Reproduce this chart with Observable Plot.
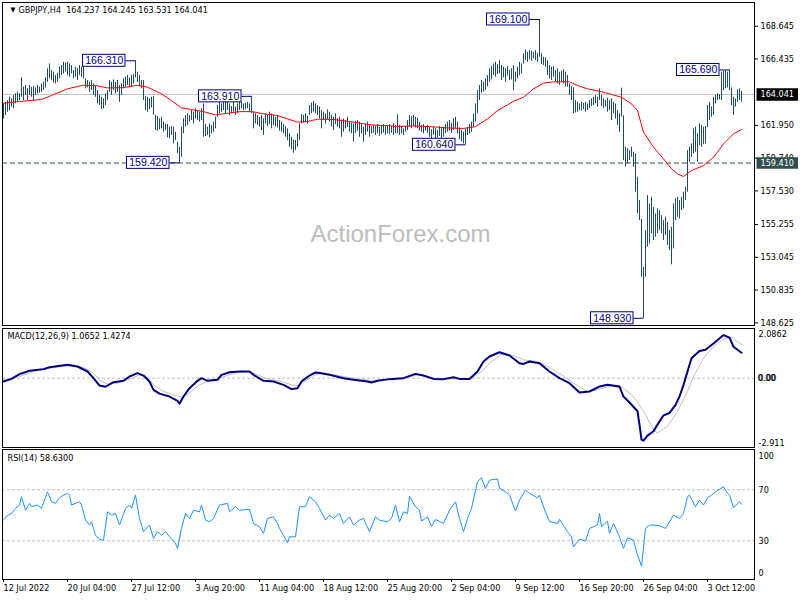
<!DOCTYPE html>
<html><head><meta charset="utf-8">
<script src="https://cdn.jsdelivr.net/npm/d3@7"></script>
<script src="https://cdn.jsdelivr.net/npm/@observablehq/plot@0.6"></script>
<style>
html,body{margin:0;padding:0;background:#fff;}
#chart{position:relative;width:800px;height:600px;overflow:hidden;background:#fff;}
#chart svg{position:absolute;left:0;top:0;}
</style></head><body><div id="chart"></div>
<script>
// ---------- DATA ----------
const symbol = "GBPJPY,H4";
const ohlc = [164.237, 164.245, 163.531, 164.041];
const high = [
163.40,163.51,163.63,163.85,163.74,163.97,164.08,164.19,164.08,165.16,
164.53,164.64,164.42,164.64,164.53,164.57,164.48,164.64,164.53,164.75,
164.86,165.16,165.77,166.10,165.65,165.54,165.32,165.47,165.88,165.99,
166.21,166.15,166.21,166.10,165.99,165.65,165.88,165.77,165.99,165.88,
166.21,165.09,164.98,164.86,164.98,164.75,164.64,164.30,163.97,163.85,
163.74,164.08,164.30,164.98,164.86,165.02,164.86,164.98,164.64,164.75,
165.09,165.20,165.32,165.16,165.32,165.38,166.31,165.54,165.32,164.98,
164.98,163.90,163.85,163.74,163.85,163.90,162.62,162.55,162.39,162.50,
162.17,162.05,162.01,161.83,161.87,161.83,161.49,160.82,160.48,161.83,
162.39,162.62,162.73,162.62,162.95,162.84,163.07,162.95,162.84,163.07,
163.40,162.01,161.83,162.05,161.94,162.17,162.50,163.29,163.51,163.40,
163.63,163.51,163.74,163.40,163.22,163.51,163.18,163.40,163.63,163.51,
163.40,163.45,163.51,163.40,163.91,162.84,162.73,162.62,162.50,162.62,
162.39,162.73,162.62,162.84,162.73,162.62,162.50,162.62,162.28,162.17,
162.01,161.87,161.72,161.38,161.15,160.97,160.93,161.38,162.05,162.68,
162.62,162.73,162.55,163.29,163.45,163.56,163.40,163.29,163.18,162.95,
162.84,162.73,163.00,162.84,162.62,162.50,162.73,162.39,162.50,162.32,
162.39,162.28,162.50,162.17,162.10,162.05,162.23,162.28,162.17,162.05,
161.83,162.01,162.17,161.94,161.87,161.94,161.87,162.01,161.83,161.92,
162.01,161.87,161.94,162.01,161.87,162.05,161.94,162.66,161.94,161.83,
161.72,161.87,162.28,162.62,162.55,162.62,162.50,162.44,162.17,161.94,
162.01,161.87,161.94,161.78,161.65,161.83,161.72,161.60,161.87,161.72,
161.83,162.01,162.17,162.28,162.10,162.39,162.50,162.17,161.78,161.60,
161.49,161.65,161.83,162.01,162.17,162.73,163.40,164.30,164.64,164.98,
164.86,165.09,165.32,165.77,165.92,166.10,166.21,166.06,166.33,165.99,
165.88,165.77,165.92,165.65,165.77,165.99,165.54,165.88,166.21,166.10,
166.78,167.05,166.89,167.00,166.96,166.89,167.00,166.82,169.10,166.78,
166.55,166.51,166.33,165.99,165.88,165.92,165.65,165.77,165.54,165.61,
165.70,165.54,165.32,164.75,164.57,164.48,163.63,163.51,163.40,163.51,
163.45,163.51,163.40,163.63,163.74,163.85,163.97,163.85,164.42,163.97,
163.74,163.63,163.79,163.63,163.74,163.51,163.40,162.95,162.73,164.46,
162.60,160.48,160.37,160.25,160.48,160.14,160.03,158.45,156.88,155.63,
152.38,154.85,157.21,156.65,157.10,156.42,155.97,156.31,156.20,155.86,
155.52,155.75,155.41,154.85,155.07,156.65,156.99,157.10,156.88,157.10,
157.44,157.78,160.25,160.48,160.70,161.72,161.83,161.38,162.05,161.94,
161.83,161.87,163.29,163.51,163.18,163.85,163.97,164.08,164.03,165.54,
165.61,165.65,165.54,165.69,164.48,163.85,163.74,164.35,164.42,164.245
];
const low = [
162.39,162.62,162.84,162.95,163.18,163.07,163.40,163.51,163.63,163.85,
163.63,163.97,163.63,163.97,163.85,163.63,163.97,164.08,164.12,164.19,
164.30,164.48,164.86,165.09,164.98,164.80,164.75,164.86,165.09,165.32,
165.43,165.54,165.32,165.20,165.43,165.09,165.20,164.98,165.32,165.20,
165.09,164.42,164.48,164.19,164.30,163.97,163.85,163.40,163.29,163.02,
163.07,163.29,163.63,164.19,163.97,164.30,164.08,164.19,163.51,163.97,
164.42,164.53,164.64,164.48,164.55,164.75,165.16,164.86,164.55,164.42,
163.63,162.95,162.84,163.00,163.13,162.62,161.60,161.56,161.65,161.72,
161.49,161.60,161.11,161.04,161.27,160.70,160.93,160.03,159.42,159.80,
161.38,161.83,161.94,162.17,162.28,162.05,162.39,162.28,162.17,162.28,
161.15,161.20,161.27,161.11,161.38,161.49,161.72,162.50,162.73,162.84,
162.95,162.73,162.95,162.62,162.73,162.84,162.62,162.77,162.95,163.07,
162.95,163.00,163.07,162.84,162.73,161.72,162.05,161.94,161.83,161.60,
161.27,162.05,161.87,162.01,161.72,161.94,161.83,161.78,161.56,161.49,
161.38,161.15,160.93,160.48,160.30,160.07,160.25,160.48,160.93,162.05,
162.10,162.17,162.05,162.62,162.73,162.84,162.73,162.62,162.39,161.72,
162.28,162.05,162.32,162.17,161.83,161.60,162.01,161.83,161.72,161.15,
161.49,161.72,161.83,161.49,161.38,160.82,161.42,161.56,161.15,161.38,
160.82,161.27,161.49,161.15,161.38,161.42,161.27,161.38,161.20,161.33,
161.42,161.27,161.38,161.33,161.42,161.27,161.38,161.38,161.27,161.38,
161.27,161.49,161.60,161.83,161.72,161.87,161.78,161.72,161.56,161.49,
161.38,161.56,161.42,161.15,160.93,161.27,161.04,161.11,161.20,160.97,
161.15,161.38,161.49,161.56,161.42,161.60,161.72,161.38,160.97,160.82,
160.70,160.64,161.27,161.38,161.49,161.83,162.17,162.73,163.63,164.12,
164.19,164.30,164.55,164.86,165.02,165.32,165.20,165.38,165.43,164.98,
165.16,164.86,165.29,164.98,165.02,164.30,164.86,165.09,165.32,165.43,
166.10,166.33,166.21,166.37,166.28,166.44,166.33,166.21,166.55,166.06,
165.99,165.88,165.32,165.09,164.98,165.20,164.86,164.75,164.64,164.86,
164.75,164.55,164.53,163.97,163.63,162.73,162.79,162.84,162.95,162.91,
163.00,162.84,162.95,163.07,163.22,163.29,163.40,163.18,163.63,163.22,
163.07,163.18,162.84,162.95,162.28,162.73,162.39,161.94,161.49,162.50,
159.58,159.13,159.35,159.58,159.80,159.13,157.44,155.97,155.52,151.70,
148.93,151.70,153.73,153.95,154.63,154.18,154.40,154.63,154.85,154.63,
154.18,154.52,153.84,153.50,152.54,153.62,155.52,155.75,155.63,156.20,
156.31,156.88,157.44,159.46,159.80,160.03,160.14,159.46,160.59,160.48,
160.66,160.70,161.80,162.28,162.50,162.62,163.40,163.63,163.67,163.63,
164.30,164.42,164.48,164.30,163.29,162.62,163.18,163.51,163.63,163.531
];
const maIdx = [0,8,19,24,32,40,47,52,60,67,72,79,84,89,94,100,106,110,118,124,130,137,142,147,152,157,165,172,177,184,194,197,205,213,222,230,236,242,247,252,255,260,265,270,275,283,287,292,300,309,314,317,320,325,330,334,337,340,344,350,355,360,365,369];
const maVal = [163.45,163.56,163.70,163.97,164.42,164.66,164.62,164.48,164.50,164.66,164.53,164.08,163.63,163.13,163.02,162.88,162.66,162.73,162.88,162.88,162.73,162.62,162.39,162.17,162.21,162.37,162.35,162.23,162.12,161.98,161.92,161.87,161.92,161.87,161.78,161.74,161.87,162.39,162.95,163.33,163.58,163.85,164.42,164.80,164.89,164.89,164.64,164.42,164.19,163.85,163.40,162.95,161.49,160.48,159.69,159.02,158.68,158.50,158.90,159.24,159.80,160.70,161.38,161.67];
const lblIdx = [66, 88, 124, 231, 268, 320, 363];
const lblVal = [166.310, 159.420, 163.910, 160.640, 169.100, 148.930, 165.690];
const currentPrice = 164.041;
const supportLevel = 159.410;
const priceTicks = [168.645,166.435,161.950,159.740,157.530,155.255,153.045,150.835,148.625];

const macdIdx = [0,4,8,13,20,23,32,37,42,45,48,51,55,60,63,67,70,73,75,78,83,87,88,90,93,97,99,102,107,109,113,118,123,125,130,135,140,144,147,149,153,156,159,163,170,175,182,184,187,193,200,206,210,215,220,225,228,233,237,240,243,248,253,258,260,263,268,273,278,283,288,293,298,302,308,310,313,317,318,319,320,322,325,327,330,333,336,338,340,342,344,348,351,355,360,363,365,369];
const macdVal = [-0.14,-0.03,0.17,0.31,0.38,0.46,0.56,0.49,0.28,0,-0.31,-0.36,-0.17,-0.11,0.07,0.21,0.11,-0.14,-0.49,-0.65,-0.77,-0.95,-1.07,-0.77,-0.42,-0.11,0,-0.11,-0.07,0.14,0.25,0.28,0.28,0.14,-0.11,-0.14,-0.28,-0.46,-0.42,-0.14,0.11,0.24,0.21,0.14,0,-0.07,-0.14,-0.18,-0.11,-0.04,0,0.18,0.11,-0.03,-0.04,0.04,-0.03,-0.03,0.28,0.70,0.91,1.09,0.95,0.63,0.60,0.70,0.63,0.28,0,-0.21,-0.60,-0.56,-0.35,-0.28,-0.35,-0.77,-1.02,-1.39,-1.95,-2.58,-2.62,-2.41,-2.23,-1.95,-1.56,-1.46,-1.12,-0.77,-0.28,0.28,0.84,1.14,1.19,1.46,1.81,1.70,1.32,1.07];
const sigIdx = [0,8,15,23,32,40,45,48,52,57,63,68,72,75,80,85,90,93,98,103,108,115,123,127,132,139,144,147,150,155,159,165,172,179,185,194,202,207,213,220,227,234,239,244,249,255,260,267,272,279,285,292,297,304,310,315,320,325,327,332,337,342,345,350,355,360,364,369];
const sigVal = [-0.07,0.07,0.28,0.42,0.52,0.45,0.21,-0.07,-0.25,-0.21,-0.04,0.14,0.03,-0.28,-0.56,-0.70,-0.81,-0.63,-0.28,-0.10,0,0.21,0.28,0.14,-0.03,-0.14,-0.28,-0.32,-0.17,0.11,0.21,0.14,0.04,-0.04,-0.11,-0.03,0.03,0.14,0.03,-0.03,-0.03,0,0.28,0.70,1.00,0.95,0.77,0.70,0.49,0.14,-0.21,-0.56,-0.49,-0.32,-0.42,-0.77,-1.39,-2.16,-2.30,-2.02,-1.39,-0.56,0.07,0.84,1.32,1.65,1.70,1.42];
const macdTitle = "MACD(12,26,9) 1.0652 1.4274";
const macdMax = 2.0862, macdMin = -2.911;

const rsiIdx = [0,2,4,6,8,9,11,13,14,17,19,22,24,26,28,30,32,33,34,38,39,41,43,44,46,48,50,52,54,56,58,61,63,64,66,68,70,73,75,77,79,81,83,86,87,89,91,93,95,98,99,101,103,105,108,112,113,116,118,123,125,128,130,132,135,137,138,142,143,146,148,151,153,156,158,161,163,165,168,170,173,175,178,180,183,186,188,192,194,196,198,200,202,203,206,208,209,212,214,216,220,223,226,228,230,232,234,237,239,241,243,247,248,251,253,256,258,261,263,267,268,270,273,277,278,282,284,285,288,291,293,297,298,299,302,303,305,308,310,312,315,317,319,321,323,325,328,331,335,338,340,342,343,346,348,350,352,354,356,360,362,363,365,368,369];
const rsiVal = [46.2,50.1,51.4,55.4,58.0,64.5,54.0,59.3,56.7,58.0,55.4,68.4,60.6,59.3,63.7,65.8,67.1,65.8,58.0,60.6,58.0,46.2,42.3,44.9,34.4,31.0,30.5,52.7,50.1,51.4,42.3,55.4,58.0,55.4,65.8,47.5,37.1,42.3,31.8,37.1,34.4,37.1,33.1,27.9,24.0,39.7,51.4,47.5,54.0,52.7,58.0,46.2,44.9,47.5,58.0,59.3,52.7,56.7,54.0,54.6,43.6,41.0,35.8,47.5,48.8,43.6,39.7,28.4,33.1,33.1,56.7,56.7,64.5,60.6,55.4,46.2,50.1,47.5,51.4,43.6,48.8,42.3,46.2,47.5,37.1,48.8,46.2,44.9,47.5,58.0,44.9,52.7,51.4,65.0,56.7,54.0,45.4,48.8,41.0,46.7,43.6,54.0,60.6,47.5,37.1,47.5,55.4,76.3,79.4,71.0,77.6,78.4,71.0,68.4,65.8,53.3,61.9,69.7,67.1,63.7,65.8,56.7,44.9,43.6,46.7,37.1,33.1,25.3,31.3,29.7,39.7,42.3,51.4,41.0,45.4,35.8,43.6,33.1,24.0,32.4,30.5,18.8,10.1,39.7,42.3,42.3,41.8,39.7,50.1,47.5,51.4,64.5,65.8,56.7,61.9,58.0,63.7,65.8,68.4,72.3,67.1,65.8,55.9,60.6,58.6];
const rsiTitle = "RSI(14) 58.6300";
const rsiLevels = [70, 30];

const xTickIdx = [0,32,64,96,128,160,192,224,256,288,320,352];
const xTickLbl = ["12 Jul 2022","20 Jul 04:00","27 Jul 12:00","3 Aug 20:00","11 Aug 04:00","18 Aug 12:00","25 Aug 20:00","2 Sep 04:00","9 Sep 12:00","16 Sep 20:00","26 Sep 04:00","3 Oct 12:00"];
const watermark = "ActionForex.com";

// ---------- BUILD ----------
const FONT = "'DejaVu Sans Condensed','DejaVu Sans',sans-serif";
const BAR = "#1f4c63", NAVY = "#000080";
const bars = high.map((h, i) => ({i, h, l: low[i]}));
const ma = maIdx.map((i, k) => ({i, v: maVal[k]}));
const labels = lblIdx.map((i, k) => ({i, v: lblVal[k]}));
const macd = macdIdx.map((i, k) => ({i, v: macdVal[k]}));
const sig = sigIdx.map((i, k) => ({i, v: sigVal[k]}));
const rsi = rsiIdx.map((i, k) => ({i, v: rsiVal[k]}));
const xDom = [-0.5, 375.5];
const base = {width: 800, height: 600, marginLeft: 2, marginRight: 46,
  style: {fontFamily: FONT, fontSize: "9px", background: "transparent", overflow: "visible", color: "black"}};

const main = Plot.plot({...base, marginTop: 2, marginBottom: 275,
  x: {domain: xDom, axis: null},
  y: {domain: [148.443, 170.245], axis: null},
  marks: [
    Plot.text([watermark], {frameAnchor: "middle", dx: 22, dy: 70, fontSize: 24, fill: "#bdbdbd",
      fontFamily: "'Liberation Sans',Arial,sans-serif", text: d => d}),
    Plot.ruleY([currentPrice], {stroke: "#c0c0c0"}),
    Plot.ruleY([supportLevel], {stroke: "#2f4f4f", strokeDasharray: "5,3"}),
    Plot.ruleX(bars, {x: "i", y1: "l", y2: "h", stroke: BAR}),
    Plot.line(ma, {x: "i", y: "v", stroke: "#ff0000", strokeWidth: 1}),
    Plot.link(labels, {x1: d => d.i - 5, x2: "i", y1: "v", y2: "v", stroke: NAVY}),
    Plot.rect(labels, {x1: "i", x2: "i", y1: "v", y2: "v", insetLeft: -52.5, insetRight: 10, insetTop: -6, insetBottom: -6, fill: "white", stroke: NAVY}),
    Plot.text(labels, {x: "i", y: "v", dx: -31.25, text: d => d.v.toFixed(3), fill: NAVY, fontSize: 10.5,
      fontFamily: "'Liberation Sans',Arial,sans-serif"}),
    Plot.axisY({anchor: "right", ticks: priceTicks, tickFormat: d => d.toFixed(3), tickSize: 3, tickPadding: 3, label: null}),
    Plot.ruleY([currentPrice], {stroke: "black", strokeWidth: 12.5, insetLeft: 754.5, insetRight: -44}),
    Plot.text([currentPrice], {y: d => d, text: d => d.toFixed(3), frameAnchor: "right", dx: 6, textAnchor: "start", fill: "white"}),
    Plot.ruleY([supportLevel], {stroke: "#2f4f4f", strokeWidth: 11.5, insetLeft: 754.5, insetRight: -44}),
    Plot.text([supportLevel], {y: d => d, text: d => d.toFixed(3), frameAnchor: "right", dx: 6, textAnchor: "start", fill: "white"}),
    Plot.frame({stroke: "black"}),
    Plot.text(["▼"], {frameAnchor: "top-left", dx: 8, dy: 5, lineAnchor: "top", fontSize: 7, text: d => d}),
    Plot.text([symbol + "\u00a0 " + ohlc.map(d => d.toFixed(3)).join(" ")], {frameAnchor: "top-left", dx: 16, dy: 4, lineAnchor: "top", textAnchor: "start", text: d => d})
  ]
});

const macdPlot = Plot.plot({...base, marginTop: 328, marginBottom: 153,
  x: {domain: xDom, axis: null},
  y: {domain: [macdMin, macdMax], axis: null},
  marks: [
    Plot.ruleY([0], {stroke: "#c0c0c0", strokeDasharray: "3,2"}),
    Plot.line(sig, {x: "i", y: "v", stroke: "#c0c0c0", strokeWidth: 1}),
    Plot.line(macd, {x: "i", y: "v", stroke: NAVY, strokeWidth: 2}),
    Plot.frame({stroke: "black"}),
    Plot.text([macdTitle], {frameAnchor: "top-left", dx: 5, dy: 4, lineAnchor: "top", textAnchor: "start", text: d => d}),
    Plot.text([macdMax], {frameAnchor: "top-right", dx: 4, dy: 2, lineAnchor: "top", textAnchor: "start", text: d => d.toFixed(4)}),
    Plot.text([0], {y: d => d, frameAnchor: "right", dx: 3, textAnchor: "start", text: () => "0.00"}),
    Plot.text([0], {y: d => d, frameAnchor: "right", dx: 4, textAnchor: "start", text: () => "0.00"}),
    Plot.text([macdMin], {frameAnchor: "bottom-right", dx: 4, dy: -2, lineAnchor: "bottom", textAnchor: "start", text: d => d.toFixed(3)})
  ]
});

const rsiPlot = Plot.plot({...base, marginTop: 449, marginBottom: 21,
  x: {domain: xDom},
  y: {domain: [0, 100], range: [578.5, 451], axis: null},
  marks: [
    Plot.ruleY(rsiLevels, {stroke: "#c0c0c0", strokeDasharray: "3,2"}),
    Plot.line(rsi, {x: "i", y: "v", stroke: "#1e90ff", strokeWidth: 1}),
    Plot.frame({stroke: "black"}),
    Plot.text([rsiTitle], {frameAnchor: "top-left", dx: 5, dy: 5, lineAnchor: "top", textAnchor: "start", text: d => d}),
    Plot.text(rsiLevels, {y: d => d, frameAnchor: "right", dx: 4, textAnchor: "start", text: d => String(d)}),
    Plot.text([100], {y: d => d, frameAnchor: "right", dx: 4, dy: 5, textAnchor: "start", text: d => String(d)}),
    Plot.text([0], {y: d => d, frameAnchor: "right", dx: 4, dy: -5.5, textAnchor: "start", text: d => String(d)}),
    Plot.axisX({ticks: xTickIdx, tickFormat: d => xTickLbl[xTickIdx.indexOf(d)], tickSize: 3, tickPadding: 2, textAnchor: "start", label: null})
  ]
});

const root = document.getElementById("chart");
root.append(main, macdPlot, rsiPlot);
</script></body></html>
